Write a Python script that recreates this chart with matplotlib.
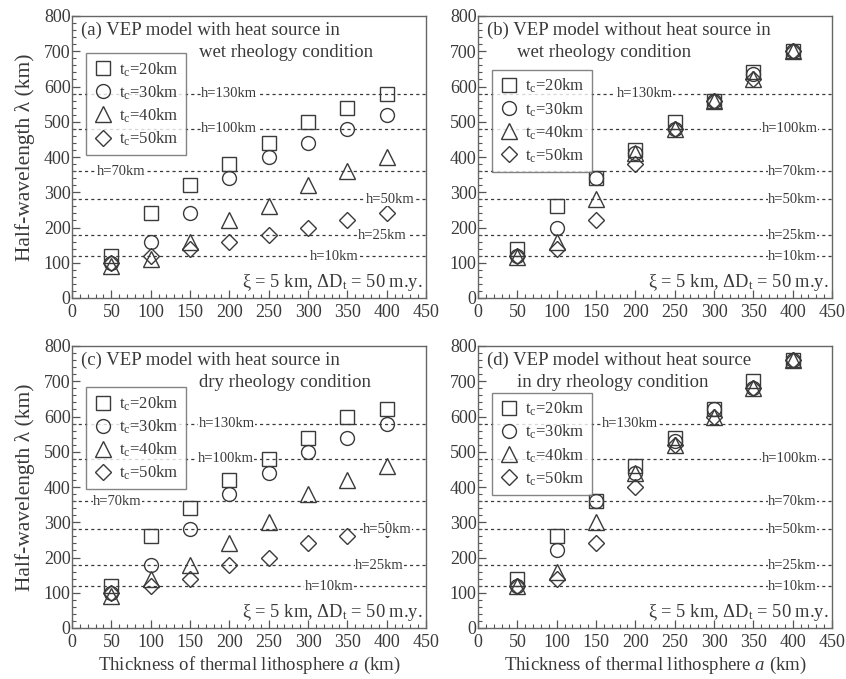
import numpy as np
import matplotlib
matplotlib.use("Agg")
import matplotlib.pyplot as plt
from matplotlib.ticker import MultipleLocator

plt.rcParams["font.family"] = ["Liberation Serif", "DejaVu Serif"]
plt.rcParams["mathtext.fontset"] = "custom"
plt.rcParams["mathtext.rm"] = "Liberation Serif"
plt.rcParams["mathtext.it"] = "Liberation Serif:italic"

INK = "#3a3a3a"

# lithosphere thickness a (km)
thickness = [50, 100, 150, 200, 250, 300, 350, 400]
crust_labels = ["t$_\\mathrm{c}$=20km", "t$_\\mathrm{c}$=30km",
                "t$_\\mathrm{c}$=40km", "t$_\\mathrm{c}$=50km"]
markers = ["s", "o", "^", "D"]

# half-wavelength (km) for tc = 20, 30, 40, 50 km
wet_heat = [
    [120, 240, 320, 380, 440, 500, 540, 580],
    [100, 160, 240, 340, 400, 440, 480, 520],
    [90, 110, 160, 220, 260, 320, 360, 400],
    [100, 120, 140, 160, 180, 200, 220, 240],
]
wet_noheat = [
    [140, 260, 340, 420, 500, 560, 640, 700],
    [120, 200, 340, 410, 480, 560, 635, 700],
    [115, 160, 280, 410, 480, 560, 620, 700],
    [120, 140, 220, 380, 480, 560, 620, 700],
]
dry_heat = [
    [120, 260, 340, 420, 480, 540, 600, 620],
    [100, 180, 280, 380, 440, 500, 540, 580],
    [90, 140, 180, 240, 300, 380, 420, 460],
    [100, 120, 140, 180, 200, 240, 260, 280],
]
dry_noheat = [
    [140, 260, 360, 460, 540, 620, 700, 760],
    [120, 220, 360, 440, 530, 620, 680, 760],
    [120, 160, 300, 440, 520, 600, 680, 760],
    [120, 140, 240, 400, 520, 600, 680, 760],
]

# reference levels for elastic thickness h
h_names = ["h=10km", "h=25km", "h=50km", "h=70km", "h=100km", "h=130km"]
h_levels = [118, 178, 280, 360, 480, 580]

panels = [
    dict(data=wet_heat, line1="(a) VEP model with heat source in",
         line2="wet rheology condition", x2=0.36,
         hx=[333, 395, 404, 62, 200, 200], leg_top=0.87),
    dict(data=wet_noheat, line1="(b) VEP model without heat source in",
         line2="wet rheology condition", x2=0.11,
         hx=[400, 400, 400, 400, 396, 212], leg_top=0.81),
    dict(data=dry_heat, line1="(c) VEP model with heat source in",
         line2="dry rheology condition", x2=0.36,
         hx=[327, 391, 401, 58, 195, 197], leg_top=0.855),
    dict(data=dry_noheat, line1="(d) VEP model without heat source",
         line2="in dry rheology condition", x2=0.11,
         hx=[400, 400, 400, 400, 396, 193], leg_top=0.835),
]

fig = plt.figure(figsize=(8.46, 6.79), dpi=100)
W, H = 846, 679
boxes = [(72, 16), (478, 16), (72, 346), (478, 346)]

for i, (p, (left, top)) in enumerate(zip(panels, boxes)):
    ax = fig.add_axes([left / W, 1 - (top + 282) / H, 354 / W, 282 / H])
    ax.set_xlim(0, 450)
    ax.set_ylim(0, 800)

    for name, lev, hx in zip(h_names, h_levels, p["hx"]):
        ax.axhline(lev, color=INK, lw=0.9, ls=(0, (2.5, 2.5)), zorder=1)
        ax.text(hx, lev, name, ha="center", va="center", fontsize=10.5,
                color=INK, zorder=4,
                bbox=dict(facecolor="white", edgecolor="none", pad=0.3))

    for vals, mk, lab in zip(p["data"], markers, crust_labels):
        ms = 8.5 if mk == "D" else (11 if mk == "^" else 10)
        ax.plot(thickness, vals, ls="none", marker=mk, ms=ms,
                mfc="none", mec=INK, mew=1.0, label=lab, zorder=3)

    leg = ax.legend(loc="upper left", bbox_to_anchor=(0.04, p["leg_top"]),
                    fancybox=False, frameon=True, fontsize=12,
                    handletextpad=0.4, labelspacing=0.28, borderpad=0.45,
                    handlelength=1.1, borderaxespad=0)
    leg.get_frame().set_edgecolor("#666666")
    leg.get_frame().set_linewidth(1.0)
    leg.set_zorder(5)
    for t in leg.get_texts():
        t.set_color(INK)

    ax.text(0.025, 0.948, p["line1"], transform=ax.transAxes, ha="left",
            va="center", fontsize=13.5, color=INK, zorder=4)
    ax.text(p["x2"], 0.87, p["line2"], transform=ax.transAxes, ha="left",
            va="center", fontsize=13.5, color=INK, zorder=4)
    ax.text(0.99, 0.055, "ξ = 5 km, ΔD$_\\mathrm{t}$ = 50 m.y.",
            transform=ax.transAxes, ha="right", va="center", fontsize=13.3,
            color=INK, zorder=4)

    ax.xaxis.set_major_locator(MultipleLocator(50))
    ax.xaxis.set_minor_locator(MultipleLocator(10))
    ax.yaxis.set_major_locator(MultipleLocator(100))
    ax.yaxis.set_minor_locator(MultipleLocator(20))
    ax.tick_params(which="both", direction="in", top=False, right=False,
                   colors="#555555", labelcolor=INK, labelsize=13)
    ax.tick_params(which="major", length=6, width=0.9)
    ax.tick_params(which="minor", length=3, width=0.8)
    ax.tick_params(axis="x", which="major", pad=4)
    ax.tick_params(axis="y", which="major", pad=1)
    for s in ax.spines.values():
        s.set_color("#666666")
        s.set_linewidth(1.0)

    if i % 2 == 0:
        ax.set_ylabel("Half-wavelength λ (km)", fontsize=15.5, color=INK,
                      labelpad=6)
    if i >= 2:
        ax.set_xlabel("Thickness of thermal lithosphere $\\mathit{a}$ (km)",
                      fontsize=13.5, color=INK, labelpad=3)

fig.savefig("out.png", dpi=100)
